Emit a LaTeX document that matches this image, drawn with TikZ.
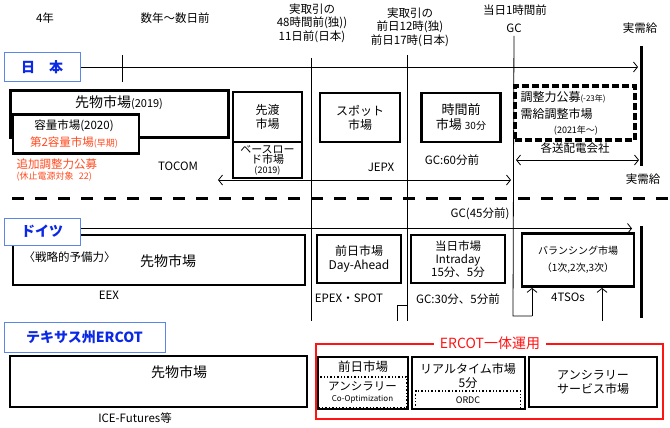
\documentclass[tikz,border=0pt]{standalone}
\usepackage{fontspec}
\setmainfont{Noto Sans CJK JP}
\usepackage{tikz}
\usetikzlibrary{arrows.meta}
\definecolor{yaziMavi}{HTML}{0A28E6}
\definecolor{kutuMavi}{HTML}{5B87E8}
\definecolor{turuncu}{HTML}{FF4A1E}
\definecolor{kirmizi}{HTML}{FF1414}

\begin{document}
\begin{tikzpicture}[x=1pt,y=-1pt,font=\fontsize{11.5}{13.5}\selectfont,
  kutu/.style={draw,line width=2.8pt,fill=white,inner sep=0pt,align=center,font=\fontsize{12}{14}\selectfont},
  noktali/.style={draw,line width=1.4pt,dotted,inner sep=0pt,align=center},
  ulke/.style={draw=kutuMavi,line width=0.9pt,fill=white,text=yaziMavi,inner sep=0pt,font=\fontsize{14}{16}\selectfont\bfseries},
  ince/.style={line width=0.8pt},
  ok/.style={ince,-{Straight Barb[length=4pt,width=10pt]}},
  ciftok/.style={ince,{Straight Barb[length=4pt,width=10pt]}-{Straight Barb[length=4pt,width=10pt]}},
  kucuk/.style={font=\fontsize{9}{10}\selectfont},
  buyuk/.style={font=\fontsize{14}{16}\selectfont}]
\useasboundingbox (0,0) rectangle (670,428);

\node (dortYil) at (45,18) {4年};
\node (birkacYil) at (175,18) {数年～数日前};
\node[align=center] (ikiGun) at (312,23) {実取引の\\48時間前(独))\\11日前(日本)};
\node[align=center] (oncekiGun) at (410,27) {実取引の\\前日12時(独)\\前日17時(日本)};
\node (birSaat) at (515,10) {当日1時間前};
\node (gcUst) at (514,28) {GC};
\node (jisyukyu) at (640,28) {実需給};

\coordinate (jpBas) at (80,67);
\coordinate (jpSon) at (638,67);
\draw[ok] (jpBas) -- (jpSon);
\node[ulke,minimum width=76,minimum height=29] (japonya) at (42,67) {日\hspace{1em}本};
\draw[line width=3pt] (641,46) -- (641,166);

\draw[ince] (122,55) -- (122,82);
\draw[ince] (311,58) -- (311,321);
\draw[ince] (407,55) -- (407,321);
\draw[ince] (407,305) -- (397,305) -- (397,321);
\coordinate (gcAlt) at (513,316);
\draw[ince] (gcUst) -- (gcAlt) -- ++(19,0) coordinate (gcSag);

\node[kutu,minimum width=218,minimum height=47] (sakimonoJP) at (119.5,114) {};
\node[buyuk] (sakimonoJPyazi) at (119,103) {先物市場{\fontsize{11}{13}\selectfont(2019)}};
\node[kutu,minimum width=126,minimum height=39] (yoryo) at (76,134) {};
\node (yoryoYazi) at (74,126) {容量市場(2020)};
\node[text=turuncu] (yoryoIki) at (74,143) {第2容量市場{\fontsize{9}{10}\selectfont(早期)}};
\node[text=turuncu,anchor=west] (tsuika) at (13,164) {追加調整力公募};
\node[text=turuncu,anchor=west,kucuk] (kyushi) at (13,177) {(休止電源対象\hspace{0.6em}22)};
\node (tocom) at (178,166) {TOCOM};

\node[kutu,minimum width=69,minimum height=50] (sakiwatashi) at (267.5,117) {先渡\\市場};
\node[kutu,minimum width=69,minimum height=36,font=\fontsize{11}{9.5}\selectfont] (baseload) at (267.5,160) {ベースロー\\ド市場\\{\fontsize{9}{9.5}\selectfont(2019)}};
\node[kutu,minimum width=80,minimum height=49] (spot) at (360,117.5) {スポット\\市場};
\node (jepx) at (381,167) {JEPX};
\node[kutu,minimum width=79,minimum height=49,font=\fontsize{13}{15}\selectfont] (jikanmae) at (461,117.5) {時間前\\市場 {\fontsize{10}{12}\selectfont 30分}};
\node (gcAltmis) at (452,160) {GC:60分前};
\coordinate (tocomOk) at (218,180);
\coordinate (jepxOk) at (511,180);
\draw[ciftok] (tocomOk) -- (jepxOk);

\node[draw,line width=3.2pt,dash pattern=on 7pt off 3pt,minimum width=120,minimum height=54,inner sep=0pt] (chosei) at (575,113) {};
\node[anchor=west,font=\fontsize{12}{14}\selectfont] (choseiYazi) at (517,97) {調整力公募{\fontsize{8}{9}\selectfont(-23年)}};
\node[anchor=west,font=\fontsize{12}{14}\selectfont] (jukyu) at (517,114) {需給調整市場};
\node[kucuk] (nisen) at (576,131) {(2021年～)};
\node (soden) at (575,148) {各送配電会社};
\coordinate (sodenSol) at (516,160);
\coordinate (sodenSag) at (639,160);
\draw[ciftok] (sodenSol) -- (sodenSag);
\node (jisyukyuAlt) at (643,179) {実需給};

\draw[line width=3pt,dash pattern=on 12pt off 11pt] (12,198) -- (670,198);

\coordinate (deBas) at (80,228.5);
\coordinate (deSon) at (632,228.5);
\draw[ok] (deBas) -- (deSon);
\node (gcKirkbes) at (480,214) {GC(45分前)};
\draw[line width=3pt] (641,226) -- (641,318);

\node[kutu,minimum width=292,minimum height=50] (senryaku) at (159,260) {};
\node[anchor=west] (senryakuYazi) at (20,257) {〈戦略的予備力〉};
\node[buyuk] (sakimonoDE) at (168,261) {先物市場};
\node (eex) at (109,295) {EEX};
\node[ulke,minimum width=76,minimum height=27] (doitsu) at (42,231.5) {ドイツ};
\node[kutu,minimum width=84,minimum height=48] (zenjitsuDE) at (359,259) {前日市場\\Day-Ahead};
\node (epex) at (349,298) {EPEX・SPOT};
\node[kutu,minimum width=94,minimum height=48,font=\fontsize{11.5}{13}\selectfont] (tojitsu) at (458,259) {当日市場\\Intraday\\15分、5分};
\node (gcOtuz) at (458,299) {GC:30分、5分前};
\node[kutu,minimum width=112,minimum height=53,font=\fontsize{10}{17}\selectfont] (dengeleme) at (578,260) {バランシング市場\\（1次,2次,3次）};
\node (tso) at (568,297) {4TSOs};
\coordinate (tsoAlt) at (602,321);
\draw[ok] (gcSag) -- (gcSag |- dengeleme.south);
\draw[ok] (tsoAlt) -- (tsoAlt |- dengeleme.south);

\node[ulke,minimum width=161,minimum height=30] (ercot) at (84.5,337) {テキサス州ERCOT};
\node[kutu,minimum width=297,minimum height=51] (sakimonoUS) at (158.5,381.5) {};
\node[buyuk] (sakimonoUSyazi) at (179,372) {先物市場};
\node (ice) at (135,418) {ICE-Futures等};

\node[draw=kirmizi,line width=1.2pt,minimum width=347,minimum height=75,inner sep=0pt] (ittai) at (489.5,381.5) {};
\node[text=kirmizi,fill=white,buyuk,inner xsep=6pt,inner ysep=1pt] (ittaiYazi) at (490,343) {ERCOT一体運用};
\node[kutu,minimum width=90,minimum height=52] (zenjitsuUS) at (363,383) {};
\node[font=\fontsize{12.5}{14}\selectfont] (zenjitsuUSyazi) at (363,367) {前日市場};
\node[noktali,minimum width=88,minimum height=31] (ancillaryCo) at (362.5,392.5) {アンシラリー\\[-2pt]{\fontsize{8}{9}\selectfont Co-Optimization}};
\node[kutu,minimum width=113,minimum height=52] (realtime) at (468.5,383) {};
\node[align=center,font=\fontsize{12}{14}\selectfont] (realtimeYazi) at (468,376) {リアルタイム市場\\5分};
\node[noktali,minimum width=105,minimum height=18,kucuk] (ordc) at (468,400) {ORDC};
\node[kutu,minimum width=128,minimum height=50] (ancillary) at (593,382) {アンシラリー\\サービス市場};
\end{tikzpicture}
\end{document}
